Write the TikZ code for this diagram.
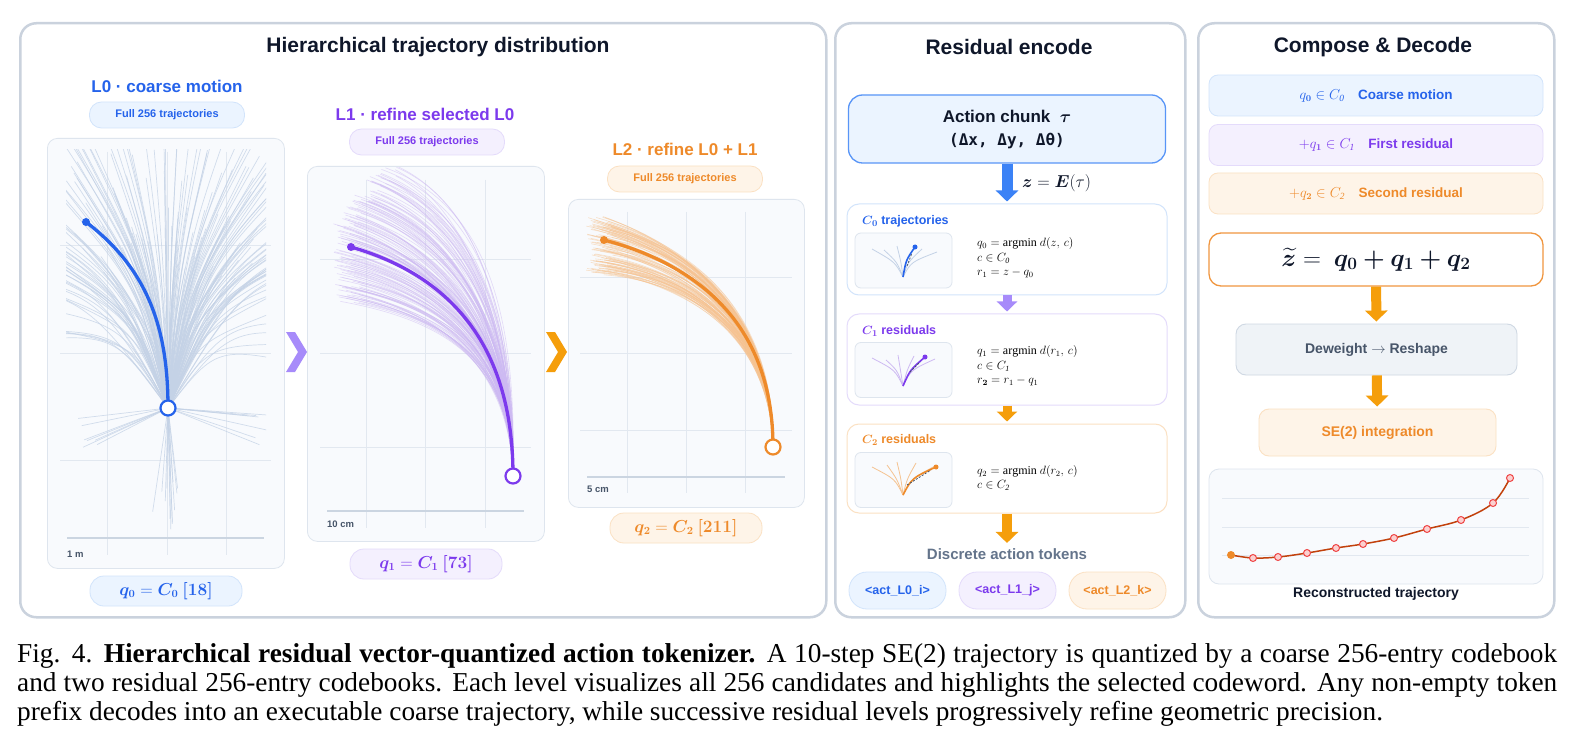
\documentclass[tikz,border=0pt]{standalone}
\usepackage{amsmath,amssymb,bm}
\usepackage{fontspec}
\setmainfont{Liberation Serif}
\setsansfont{Liberation Sans}
\newfontfamily\monoface{DejaVu Sans Mono}
\usepackage{tikz}
\usetikzlibrary{positioning,arrows.meta,calc}
\definecolor{cBlue}{HTML}{2563EB}
\definecolor{cPurple}{HTML}{7C3AED}
\definecolor{cOrange}{HTML}{EE8A2A}
\definecolor{cAmber}{HTML}{F59E0B}
\definecolor{cLilac}{HTML}{A78BFA}
\definecolor{cSky}{HTML}{3B82F6}
\definecolor{cRust}{HTML}{C2410C}
\definecolor{cRed}{HTML}{EF4444}
\definecolor{nInk}{HTML}{0F172A}
\definecolor{nGray}{HTML}{475569}
\definecolor{nSlate}{HTML}{64748B}
\definecolor{nFrame}{HTML}{CAD2DD}
\definecolor{nGrid}{HTML}{E2E8F0}
\definecolor{nScale}{HTML}{CBD5E1}
\definecolor{nPlot}{HTML}{F8FAFD}
\definecolor{nPlotEdge}{HTML}{DEE5EE}
\definecolor{nDeFill}{HTML}{EFF3F7}
\definecolor{nDeEdge}{HTML}{CFD8E3}
\definecolor{fBlue}{HTML}{EBF4FF}
\definecolor{eBlue}{HTML}{D2E4FB}
\definecolor{fPurple}{HTML}{F4F0FE}
\definecolor{ePurple}{HTML}{E4DBFB}
\definecolor{fOrange}{HTML}{FEF4E8}
\definecolor{eOrange}{HTML}{FBE1C3}
\definecolor{tBlue}{HTML}{C4D2E6}
\definecolor{tPurple}{HTML}{CDB9F2}
\definecolor{tOrange}{HTML}{F5C391}
\newcommand{\setfs}[2]{\fontsize{#1}{#2}\selectfont}
\tikzset{
  panel/.style={draw=nFrame, line width=2.5pt, fill=white, rounded corners=16pt, anchor=north west, inner sep=0pt},
  ptitle/.style={font=\sffamily\bfseries\setfs{21}{25}, text=nInk},
  lvltitle/.style={font=\sffamily\bfseries\setfs{17}{20}},
  plotbox/.style={draw=nPlotEdge, line width=0.8pt, fill=nPlot, rounded corners=10pt, anchor=north west, inner sep=0pt},
  pill/.style={rounded corners=12pt, line width=0.8pt, minimum width=155pt, minimum height=26pt, inner sep=0pt, font=\sffamily\bfseries\setfs{11}{13}},
  qpill/.style={rounded corners=14pt, line width=0.8pt, minimum width=152pt, minimum height=30pt, inner sep=0pt, font=\setfs{16}{18}},
  gridln/.style={draw=nGrid, line width=0.9pt},
  scalebar/.style={draw=nScale, line width=1.3pt},
  scalelbl/.style={font=\sffamily\bfseries\setfs{9.5}{11}, text=nGray, anchor=west, inner sep=0pt},
  fanA/.style={draw=tBlue, line width=0.7pt, opacity=0.75},
  fanB/.style={draw=tPurple, line width=0.6pt, opacity=0.5},
  fanC/.style={draw=tOrange, line width=0.6pt, opacity=0.5},
  selpath/.style={line width=3.3pt, line cap=round, line join=round},
  ocirc/.style={circle, draw, line width=2.2pt, fill=white, minimum size=15pt, inner sep=0pt},
  sdot/.style={circle, minimum size=8pt, inner sep=0pt},
  subbox/.style={draw, line width=1pt, fill=white, rounded corners=12pt, minimum width=320pt, inner sep=0pt},
  thumb/.style={draw=nPlotEdge, line width=0.8pt, fill=nPlot, rounded corners=6pt, minimum width=97pt, minimum height=55pt, inner sep=0pt},
  subttl/.style={font=\sffamily\bfseries\setfs{12.5}{15}, anchor=west, inner sep=0pt},
  eqs/.style={font=\setfs{12}{14.5}, align=left, anchor=west, inner sep=0pt},
  thin/.style={line width=0.8pt},
  tdot/.style={circle, minimum size=5pt, inner sep=0pt},
  tdash/.style={draw=nGray, line width=0.8pt, dash pattern=on 2pt off 1.5pt},
  barrow/.style={line width=#1, -{Triangle[width=22pt,length=11pt]}, shorten >=2pt},
  sarrow/.style={line width=9pt, -{Triangle[width=20pt,length=10pt]}, shorten >=2pt},
  token/.style={rounded corners=18pt, line width=0.8pt, minimum width=97pt, minimum height=37pt, inner sep=0pt, font=\sffamily\bfseries\setfs{12.5}{15}},
  rowbox/.style={rounded corners=9pt, line width=0.8pt, minimum width=334pt, minimum height=41pt, inner sep=0pt, font=\setfs{13.5}{16}},
  stepbox/.style={rounded corners=10pt, line width=0.9pt, inner sep=0pt, font=\sffamily\bfseries\setfs{14}{17}},
  rdot/.style={circle, draw=cRed, fill=cRed!25, line width=1pt, minimum size=7pt, inner sep=0pt}
}
\begin{document}
\begin{tikzpicture}[x=1pt, y=-1pt]
  \useasboundingbox (0,0) rectangle (1574,743);
  \pgfmathsetseed{11}

  \node[panel, minimum width=806pt, minimum height=594pt] (pA) at (19,22) {};
  \node[panel, minimum width=350pt, minimum height=594pt] (pB) at (834,22) {};
  \node[panel, minimum width=356pt, minimum height=594pt] (pC) at (1197,22) {};
  \node[ptitle] (tA) at (438,47) {Hierarchical trajectory distribution};
  \node[ptitle] (tB) at (1009,47) {Residual encode};
  \node[ptitle] (tC) at (1373,47) {Compose \& Decode};

  \node[lvltitle, text=cBlue] (l0) at (167,86) {L0 · coarse motion};
  \node[lvltitle, text=cPurple] (l1) at (425,114) {L1 · refine selected L0};
  \node[lvltitle, text=cOrange] (l2) at (685,149) {L2 · refine L0 + L1};
  \node[pill, fill=fBlue, draw=eBlue, text=cBlue] (f0) at (167,115) {Full 256 trajectories};
  \node[pill, fill=fPurple, draw=ePurple, text=cPurple] (f1) at (427,142) {Full 256 trajectories};
  \node[pill, fill=fOrange, draw=eOrange, text=cOrange] (f2) at (685,179) {Full 256 trajectories};

  \node[plotbox, minimum width=237pt, minimum height=430pt] (b0) at (47,138) {};
  \node[plotbox, minimum width=237pt, minimum height=375pt] (b1) at (307,166) {};
  \node[plotbox, minimum width=236pt, minimum height=308pt] (b2) at (568,199) {};

  \foreach \gx in {107,167,226} \draw[gridln] (\gx,152) -- (\gx,555);
  \foreach \gy in {245,353,460} \draw[gridln] (60,\gy) -- (271,\gy);
  \foreach \gx in {366,425,485} \draw[gridln] (\gx,180) -- (\gx,528);
  \foreach \gy in {259,353,447} \draw[gridln] (320,\gy) -- (531,\gy);
  \foreach \gx in {627,686,745} \draw[gridln] (\gx,212) -- (\gx,493);
  \foreach \gy in {277,353,430} \draw[gridln] (580,\gy) -- (792,\gy);
  \draw[scalebar] (67,538) -- (264,538);
  \draw[scalebar] (327,511) -- (524,511);
  \draw[scalebar] (587,477) -- (785,477);
  \node[scalelbl] (m0) at (67,554) {1 m};
  \node[scalelbl] (m1) at (327,524) {10 cm};
  \node[scalelbl] (m2) at (587,489) {5 cm};

  \begin{scope}
    \clip (66,150) rectangle (266,530);
    \foreach \k in {1,...,190}{
      \pgfmathsetmacro{\tjA}{-90+80*rand*(0.3+0.7*rnd)}
      \pgfmathsetmacro{\tjL}{140+200*rnd}
      \pgfmathsetmacro{\tjB}{-90+0.5*(\tjA+90)}
      \pgfmathsetmacro{\tjCx}{168+0.5*\tjL*cos(\tjB)}
      \pgfmathsetmacro{\tjCy}{408+0.5*\tjL*sin(\tjB)}
      \pgfmathsetmacro{\tjEx}{168+\tjL*cos(\tjA)}
      \pgfmathsetmacro{\tjEy}{408+\tjL*sin(\tjA)}
      \draw[fanA] (168,408) .. controls (\tjCx,\tjCy) .. (\tjEx,\tjEy);
    }
    \foreach \k in {1,...,12}{
      \pgfmathsetmacro{\tjA}{90+9*rand}
      \pgfmathsetmacro{\tjL}{70+55*rnd}
      \draw[fanA] (168,408) -- ++(\tjA:\tjL);
    }
    \foreach \s in {1,-1}{
      \foreach \k in {1,...,7}{
        \pgfmathsetmacro{\tjA}{90-\s*(90-28*rnd)}
        \pgfmathsetmacro{\tjL}{70+40*rnd}
        \draw[fanA] (168,408) -- ++(\tjA:\tjL);
      }
    }
  \end{scope}

  \begin{scope}
    \clip (309,168) rectangle (542,539);
    \foreach \k in {1,...,150}{
      \pgfmathsetmacro{\tjU}{-1.35+2.3*rnd}
      \pgfmathsetmacro{\tjW}{max(0,-\tjU-0.4)}
      \pgfmathsetmacro{\tjEx}{347+14*rand+45*\tjW}
      \pgfmathsetmacro{\tjEy}{247+60*\tjU}
      \pgfmathsetmacro{\tjDx}{445+12*rand+35*\tjW}
      \pgfmathsetmacro{\tjDy}{274+52*\tjU}
      \pgfmathsetmacro{\tjCx}{513+5*rand}
      \pgfmathsetmacro{\tjCy}{345+22*\tjU}
      \draw[fanB] (513,476) .. controls (\tjCx,\tjCy) and (\tjDx,\tjDy) .. (\tjEx,\tjEy);
    }
  \end{scope}

  \begin{scope}
    \clip (570,201) rectangle (802,505);
    \foreach \k in {1,...,110}{
      \pgfmathsetmacro{\tjU}{-1+2*rnd}
      \pgfmathsetmacro{\tjEx}{600+14*rand}
      \pgfmathsetmacro{\tjEy}{245+26*\tjU+8*rand}
      \pgfmathsetmacro{\tjDx}{692+10*rand}
      \pgfmathsetmacro{\tjDy}{263+20*\tjU}
      \pgfmathsetmacro{\tjCx}{773+3*rand}
      \pgfmathsetmacro{\tjCy}{325+12*\tjU}
      \draw[fanC] (773,447) .. controls (\tjCx,\tjCy) and (\tjDx,\tjDy) .. (\tjEx,\tjEy);
    }
  \end{scope}

  \coordinate (O0) at (168,408);
  \coordinate (S0) at (86,222);
  \coordinate (O1) at (513,476);
  \coordinate (S1) at (351,247);
  \coordinate (O2) at (773,447);
  \coordinate (S2) at (604,240);
  \draw[selpath, cBlue] (O0) .. controls (168,330) and (149,270) .. (S0);
  \draw[selpath, cPurple] (O1) .. controls (513,340) and (445,274) .. (S1);
  \draw[selpath, cOrange] (O2) .. controls (773,320) and (692,263) .. (S2);
  \node[ocirc, draw=cBlue] (o0) at (O0) {};
  \node[ocirc, draw=cPurple] (o1) at (O1) {};
  \node[ocirc, draw=cOrange] (o2) at (O2) {};
  \node[sdot, fill=cBlue] (s0) at (S0) {};
  \node[sdot, fill=cPurple] (s1) at (S1) {};
  \node[sdot, fill=cOrange] (s2) at (S2) {};

  \fill[cLilac] (286,332) -- (295,332) -- (307,352) -- (295,372) -- (286,372) -- (298,352) -- cycle;
  \fill[cAmber] (546,332) -- (555,332) -- (567,352) -- (555,372) -- (546,372) -- (558,352) -- cycle;

  \node[qpill, fill=fBlue, draw=eBlue, text=cBlue] (q0) at (166,591) {$\bm{q_0} = \bm{C_0}\ \bm{[18]}$};
  \node[qpill, fill=fPurple, draw=ePurple, text=cPurple] (q1) at (426,564) {$\bm{q_1} = \bm{C_1}\ \bm{[73]}$};
  \node[qpill, fill=fOrange, draw=eOrange, text=cOrange] (q2) at (686,528) {$\bm{q_2} = \bm{C_2}\ \bm{[211]}$};

  \node[draw=cSky!85, line width=1.3pt, fill=fBlue, rounded corners=14pt, minimum width=317pt, minimum height=68pt,
    inner sep=0pt, align=center, text=nInk, font=\sffamily\bfseries\setfs{17}{23}] (act) at (1007,129)
    {Action chunk\ \ $\bm{\tau}$\\{\monoface\bfseries\setfs{16}{23}(Δx, Δy, Δθ)}};
  \node[subbox, draw=eBlue, minimum height=91pt] (c0) at (1007,249.5) {};
  \node[subbox, draw=ePurple, minimum height=91pt] (c1) at (1007,359.5) {};
  \node[subbox, draw=eOrange, minimum height=89pt] (c2) at (1007,468.5) {};
  \draw[barrow=11pt, cSky] (act) -- (c0);
  \node[font=\setfs{17}{20}, text=nInk, anchor=west, inner sep=0pt] (zl) at (1022,183) {$\bm{z} = \bm{E}(\tau)$};
  \draw[sarrow, cLilac] (c0) -- (c1);
  \draw[sarrow, cAmber] (c1) -- (c2);

  \node[subttl, text=cBlue] (n0) at (862,221) {$\bm{C_0}$ trajectories};
  \node[subttl, text=cPurple] (n1) at (862,331) {$\bm{C_1}$ residuals};
  \node[subttl, text=cOrange] (n2) at (862,440) {$\bm{C_2}$ residuals};
  \node[thumb] (h0) at (903.5,260.5) {};
  \node[thumb] (h1) at (903.5,370) {};
  \node[thumb] (h2) at (903.5,480) {};

  \foreach \tx/\ty/\cx in {872/249/895, 884/250/897, 897/246/901, 922/249/908, 937/252/911}
    \draw[thin, tBlue] (903,277) .. controls (\cx,262) .. (\tx,\ty);
  \draw[line width=1.6pt, cBlue] (903,277) .. controls (906,260) .. (915,247);
  \draw[tdash] (907,266) -- (912,253);
  \node[tdot, fill=cBlue] (d0) at (915,247) {};
  \foreach \tx/\ty/\cx in {872/358/895, 886/360/897, 898/355/901, 914/356/907, 935/359/911}
    \draw[thin, tPurple] (903,386) .. controls (\cx,370) .. (\tx,\ty);
  \draw[line width=1.6pt, cPurple] (903,386) .. controls (910,370) .. (925,357);
  \draw[tdash] (910,372) -- (920,362);
  \node[tdot, fill=cPurple] (d1) at (925,357) {};
  \foreach \tx/\ty/\cx in {872/467/895, 887/465/897, 897/462/901, 916/463/907, 935/466/911}
    \draw[thin, tOrange] (903,495) .. controls (\cx,479) .. (\tx,\ty);
  \draw[line width=1.6pt, cOrange] (903,495) .. controls (912,478) .. (936,467);
  \draw[tdash] (907,485) -- (931,470);
  \node[tdot, fill=cOrange] (d2) at (936,467) {};

  \node[eqs] (e0) at (977,258) {$q_0 = \mathrm{argmin}\ d(z,\,c)$\\$c \in C_{\mathit{0}}$\\$r_1 = z - q_0$};
  \node[eqs] (e1) at (977,366) {$q_1 = \mathrm{argmin}\ d(r_1,\,c)$\\$c \in C_{\mathit{1}}$\\$r_{\bm{2}} = r_1 - q_1$};
  \node[eqs] (e2) at (977,478) {$q_2 = \mathrm{argmin}\ d(r_2,\,c)$\\$c \in C_{\mathit{2}}$};

  \node[font=\sffamily\bfseries\setfs{15}{18}, text=nSlate] (dat) at (1007,554) {Discrete action tokens};
  \draw[barrow=10pt, cAmber] (c2) -- (dat);
  \node[token, fill=fBlue, draw=eBlue, text=cBlue] (k0) at (897.5,590.5) {<act\_L0\_i>};
  \node[token, fill=fPurple, draw=ePurple, text=cPurple] (k1) at (1007.5,590.5) {<act\_L1\_j>};
  \node[token, fill=fOrange, draw=eOrange, text=cOrange] (k2) at (1117.5,590.5) {<act\_L2\_k>};

  \node[rowbox, fill=fBlue, draw=eBlue, text=cBlue] (r0) at (1376,95.5)
    {$q_{\bm{0}} \in C_{\mathit{0}}$\quad{\sffamily\bfseries Coarse motion}};
  \node[rowbox, fill=fPurple, draw=ePurple, text=cPurple] (r1) at (1376,145)
    {$+q_{\bm{1}} \in C_{\mathit{1}}$\quad{\sffamily\bfseries First residual}};
  \node[rowbox, fill=fOrange, draw=eOrange, text=cOrange] (r2) at (1376,193.5)
    {$+q_{\bm{2}} \in C_{\mathit{2}}$\quad{\sffamily\bfseries Second residual}};
  \node[draw=cOrange!90, line width=1.3pt, fill=white, rounded corners=12pt, minimum width=334pt, minimum height=53pt,
    inner sep=0pt, text=nInk, font=\setfs{24}{28}] (zt) at (1376,259.5)
    {$\widetilde{\bm{z}} =\ \bm{q_0 + q_1 + q_2}$};
  \node[stepbox, fill=nDeFill, draw=nDeEdge, text=nGray, minimum width=281pt, minimum height=51pt] (dw) at (1376.5,349.5)
    {Deweight $\rightarrow$ Reshape};
  \node[stepbox, fill=fOrange, draw=eOrange, text=cOrange, minimum width=237pt, minimum height=47pt] (se) at (1377.5,432.5)
    {SE(2) integration};
  \draw[barrow=10pt, cAmber] (zt) -- (dw);
  \draw[barrow=10pt, cAmber] (dw) -- (se);

  \node[plotbox, anchor=center, minimum width=334pt, minimum height=115pt] (rp) at (1376,526.5) {};
  \foreach \gy in {498,527,555} \draw[thin, nGrid] (1222,\gy) -- (1529,\gy);
  \draw[cRust, line width=1.5pt] plot[smooth, tension=0.6] coordinates {(1231,555) (1253,558) (1278,557) (1307,553)
    (1336,548) (1363,544) (1394,538) (1427,529) (1461,520) (1493,503) (1510,478)};
  \node[circle, fill=cOrange, minimum size=8pt, inner sep=0pt] (st) at (1231,555) {};
  \foreach \px/\py [count=\k] in {1253/558, 1278/557, 1307/553, 1336/548, 1363/544, 1394/538, 1427/529, 1461/520, 1493/503, 1510/478}
    \node[rdot] (w\k) at (\px,\py) {};
  \node[font=\sffamily\bfseries\setfs{14}{17}, text=nInk] (rl) at (1376,594) {Reconstructed trajectory};

  \node[anchor=north west, inner sep=0pt, text width=1540pt, align=justify, font=\setfs{27.3}{29}] (cap) at (17,643)
    {Fig. 4. \textbf{Hierarchical residual vector-quantized action tokenizer.} A 10-step SE(2) trajectory is quantized by a coarse 256-entry codebook\linebreak
    and two residual 256-entry codebooks. Each level visualizes all 256 candidates and highlights the selected codeword. Any non-empty token\linebreak
    prefix decodes into an executable coarse trajectory, while successive residual levels progressively refine geometric precision.};
\end{tikzpicture}
\end{document}
